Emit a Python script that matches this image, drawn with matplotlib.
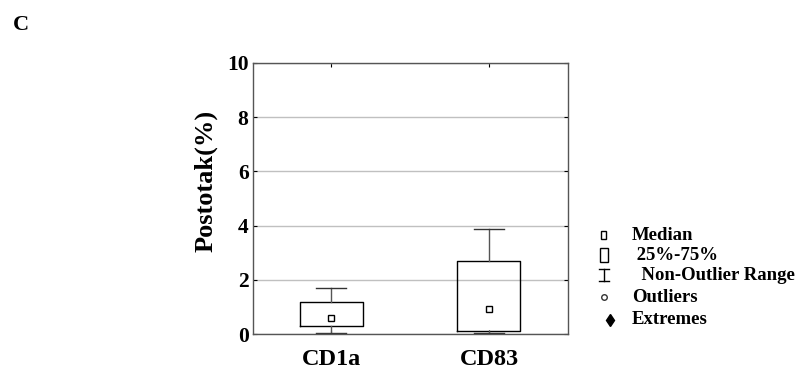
import matplotlib
matplotlib.use("Agg")
import matplotlib.pyplot as plt
from matplotlib.lines import Line2D
from matplotlib.patches import Rectangle

plt.rcParams['font.family'] = ['Liberation Serif', 'DejaVu Serif']
plt.rcParams['font.weight'] = 'bold'

groups = ["CD1a", "CD83"]
medians = [0.58, 0.91]
q1 = [0.30, 0.12]
q3 = [1.17, 2.71]
whisk_low = [0.05, 0.05]
whisk_high = [1.71, 3.87]

legend_labels = ["Median", " 25%-75%", "  Non-Outlier Range", "Outliers", "Extremes"]

fig = plt.figure(figsize=(8.03, 3.82), dpi=100)
ax = fig.add_axes([252.7 / 803, 1 - 334 / 382, 315 / 803, 271 / 382])

stats = []
for i, g in enumerate(groups):
    stats.append(dict(label=g, med=medians[i], q1=q1[i], q3=q3[i],
                      whislo=whisk_low[i], whishi=whisk_high[i], fliers=[]))

pos = [1, 2]
ax.bxp(stats, positions=pos, widths=0.4, showfliers=False,
       boxprops=dict(color="black", linewidth=1.0),
       whiskerprops=dict(color="#555555", linewidth=1.0),
       capprops=dict(color="#333333", linewidth=1.0),
       medianprops=dict(linewidth=0), capwidths=0.19)
ax.plot(pos, medians, linestyle="none", marker="s", markersize=5,
        markerfacecolor="white", markeredgecolor="black", markeredgewidth=1.0)

ax.set_xlim(0.5, 2.5)
ax.set_ylim(0, 10)
ax.set_yticks([0, 2, 4, 6, 8, 10])
ax.set_xticks(pos)
ax.set_xticklabels(groups, fontsize=17.5, fontweight="bold")
ax.tick_params(axis="y", labelsize=15.5, direction="in", right=True, length=3, pad=3)
ax.tick_params(axis="x", direction="in", top=True, length=3, pad=11)
for t in ax.get_yticklabels():
    t.set_fontweight("bold")
ax.yaxis.grid(True, color="#c0c0c0", linewidth=1.0)
ax.set_axisbelow(True)
for s in ax.spines.values():
    s.set_color("#555555")
    s.set_linewidth(1.0)
ax.set_ylabel("Postotak(%)", fontsize=19, fontweight="bold")
ax.yaxis.set_label_coords(-0.15, 0.565)
ax.yaxis.label.set_va("center")

fig.text(21 / 803, 1 - 25 / 382, "C", fontsize=16, fontweight="bold", ha="center", va="center")

# legend drawn in figure pixels
rows_y = [235, 255, 275, 297, 320]
text_x = 632
mx = 604
for lab, y in zip(legend_labels, rows_y):
    fig.text(text_x / 803, 1 - y / 382, lab, fontsize=13.5, fontweight="bold", va="center")

def fx(x):
    return x / 803

def fy(y):
    return 1 - y / 382

fig.add_artist(Rectangle((fx(mx - 2.5), fy(rows_y[0] + 4)), 5 / 803, 8 / 382,
                         fill=False, edgecolor="black", linewidth=1.0, transform=fig.transFigure))
fig.add_artist(Rectangle((fx(mx - 4), fy(rows_y[1] + 7)), 8 / 803, 14 / 382,
                         fill=False, edgecolor="black", linewidth=1.0, transform=fig.transFigure))
fig.add_artist(Line2D([fx(mx), fx(mx)], [fy(rows_y[2] - 6), fy(rows_y[2] + 6)],
                      color="black", linewidth=1.0, transform=fig.transFigure))
fig.add_artist(Line2D([fx(mx - 5), fx(mx + 5)], [fy(rows_y[2] - 6)] * 2,
                      color="black", linewidth=1.0, transform=fig.transFigure))
fig.add_artist(Line2D([fx(mx - 5), fx(mx + 5)], [fy(rows_y[2] + 6)] * 2,
                      color="black", linewidth=1.0, transform=fig.transFigure))
fig.add_artist(Line2D([fx(mx)], [fy(rows_y[3])], marker="o", markersize=4,
                      markerfacecolor="white", markeredgecolor="#333333",
                      linestyle="none", transform=fig.transFigure))
fig.add_artist(Line2D([fx(610)], [fy(rows_y[4])], marker="d", markersize=6,
                      color="black", linestyle="none", transform=fig.transFigure))

fig.savefig("out.png", dpi=100)
